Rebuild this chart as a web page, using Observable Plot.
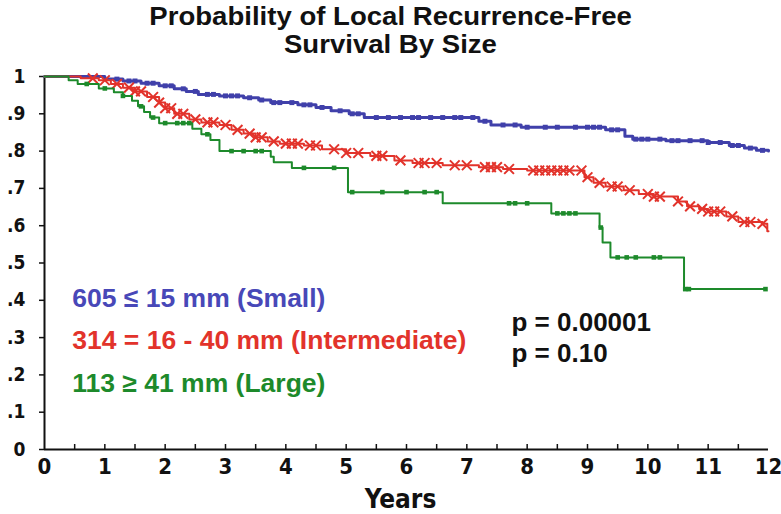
<!DOCTYPE html>
<html>
<head>
<meta charset="utf-8">
<script src="https://cdn.jsdelivr.net/npm/d3@7"></script>
<script src="https://cdn.jsdelivr.net/npm/@observablehq/plot@0.6"></script>
<style>
  html, body { margin: 0; padding: 0; background: #fff; }
  #wrap { width: 781px; height: 514px; position: relative; overflow: hidden; }
  #title { height: 60px; text-align: center; font-family: "Liberation Sans", Arial, sans-serif; font-weight: bold; font-size: 26px; line-height: 28px; color: #111; padding-top: 2px; box-sizing: border-box; }
  #title span { display: inline-block; transform: scaleX(1.06); }
</style>
</head>
<body>
<div id="wrap">
  <div id="title"><span>Probability of Local Recurrence-Free</span><br><span>Survival By Size</span></div>
  <div id="chart"></div>
</div>
<script>
// ---- data ----
const seriesNames = ["605 ≤ 15 mm (Small)", "314 = 16 - 40 mm (Intermediate)", "113 ≥ 41 mm (Large)"];
const pLabels = ["p = 0.00001", "p = 0.10"];

const smallT = [0, 1.0, 1.3, 1.6, 1.9, 2.15, 2.35, 2.55, 2.9, 3.3, 3.55, 3.75, 4.2, 4.5, 4.75, 5.05, 5.3, 7.2, 7.4, 7.9, 9.3, 9.62, 9.75, 10.3, 11.0, 11.35, 11.6, 11.8, 12.0];
const smallS = [1, 0.993, 0.988, 0.982, 0.975, 0.967, 0.96, 0.952, 0.948, 0.943, 0.937, 0.93, 0.924, 0.917, 0.908, 0.90, 0.89, 0.88, 0.87, 0.864, 0.857, 0.84, 0.832, 0.828, 0.823, 0.815, 0.808, 0.802, 0.80];
const smallCens = [1.2,1.4,1.5,1.7,1.8,2.0,2.1,2.3,2.5,2.7,2.8,3.0,3.1,3.2,3.4,3.6,3.8,3.9,4.1,4.3,4.4,4.6,4.9,5.1,5.2,5.5,5.7,5.9,6.1,6.2,6.4,6.6,6.8,6.9,7.1,7.3,7.6,7.8,8.0,8.3,8.5,8.8,9.0,9.1,9.2,9.4,9.5,9.8,9.9,10.0,10.2,10.4,10.5,10.7,10.9,11.0,11.2,11.4,11.5,11.7,11.9];

const interT = [0, 0.6, 0.9, 1.1, 1.3, 1.5, 1.7, 1.9, 2.0, 2.15, 2.4, 2.6, 2.9, 3.1, 3.3, 3.5, 3.7, 3.9, 4.3, 4.6, 5.0, 5.4, 5.8, 6.1, 6.6, 7.2, 7.6, 8.0, 8.95, 9.1, 9.3, 9.6, 9.85, 10.1, 10.5, 10.65, 10.85, 11.0, 11.3, 11.5, 11.9, 11.98, 12.0];
const interS = [1, 0.995, 0.99, 0.98, 0.97, 0.96, 0.945, 0.93, 0.915, 0.90, 0.885, 0.877, 0.87, 0.857, 0.847, 0.837, 0.826, 0.82, 0.815, 0.805, 0.795, 0.787, 0.775, 0.768, 0.762, 0.757, 0.752, 0.748, 0.73, 0.715, 0.705, 0.695, 0.685, 0.678, 0.665, 0.652, 0.645, 0.638, 0.625, 0.61, 0.605, 0.585, 0.585];
const interCens = [0.8,1.0,1.2,1.4,1.5,1.6,1.8,1.9,2.0,2.1,2.2,2.3,2.5,2.7,2.8,3.0,3.2,3.4,3.5,3.6,3.8,4.0,4.1,4.2,4.4,4.5,4.8,5.0,5.2,5.5,5.6,5.9,6.2,6.3,6.5,6.8,7.0,7.3,7.4,7.5,7.7,8.1,8.2,8.3,8.4,8.5,8.6,8.7,8.9,9.0,9.2,9.4,9.5,9.7,10.0,10.1,10.2,10.5,10.7,10.9,11.0,11.1,11.2,11.4,11.6,11.7,11.9];

const largeT = [0, 0.4, 0.55, 0.9, 1.15, 1.3, 1.45, 1.55, 1.65, 1.75, 1.9, 2.45, 2.6, 2.75, 2.9, 3.75, 3.8, 4.1, 5.03, 6.6, 8.4, 9.2, 9.25, 9.38, 10.6, 11.95];
const largeS = [1, 0.99, 0.98, 0.968, 0.958, 0.948, 0.935, 0.92, 0.905, 0.89, 0.875, 0.86, 0.845, 0.83, 0.80, 0.785, 0.77, 0.755, 0.69, 0.66, 0.633, 0.595, 0.555, 0.515, 0.43, 0.43];
const largeCens = [0.7,1.0,1.3,1.6,1.8,2.0,2.2,2.3,2.4,2.7,3.1,3.3,3.5,3.6,4.3,4.8,5.1,5.6,6.0,6.3,6.5,7.7,7.8,8.0,8.5,8.6,8.7,8.8,9.22,9.5,9.65,9.8,10.1,10.2,10.62,10.68,11.95];

const xTicks = [0,1,2,3,4,5,6,7,8,9,10,11,12];
const xMinorTicks = [0.5,1,1.5,2,2.5,3,3.5,4,4.5,5,5.5,6,6.5,7,7.5,8,8.5,9,9.5,10,10.5,11,11.5];
const yTicks = [0,0.1,0.2,0.3,0.4,0.5,0.6,0.7,0.8,0.9,1];
const yTickLabels = ["0",".1",".2",".3",".4",".5",".6",".7",".8",".9","1"];

// ---- helpers ----
const BLUE = "#4848b8", RED = "#e2332b", GREEN = "#1d8a2b";
const BLUE_LINE = "#4040aa";
function curve(T, S) { return T.map((t, i) => ({t, s: S[i]})); }
function censor(T, S, C) {
  return C.map(c => { const i = d3.bisectRight(T, c) - 1; return {t: c, s: S[Math.max(0, i)]}; });
}
const small = curve(smallT, smallS), inter = curve(interT, interS), large = curve(largeT, largeS);
const smallC = censor(smallT, smallS, smallCens), interC = censor(interT, interS, interCens), largeC = censor(largeT, largeS, largeCens);

const W = 781, H = 454, MT = 16, MB = 65;
const FONT_N = "'Liberation Sans Narrow', 'DejaVu Sans Condensed', 'Liberation Sans', sans-serif";
const FONT = "'Liberation Sans', Arial, sans-serif";

const chart = Plot.plot({
  width: W, height: H,
  marginTop: MT, marginBottom: MB, marginLeft: 44, marginRight: 13,
  x: {domain: [0, 12]},
  y: {domain: [0, 1]},
  style: {background: "#fff", color: "#111", fontFamily: FONT_N, overflow: "visible"},
  marks: [
    Plot.axisY(yTicks, {tickSize: 5, tickPadding: 14, tickFormat: d => yTickLabels[yTicks.indexOf(d)], fontSize: 19, fontWeight: "bold", fontFamily: FONT_N, label: null, stroke: "#111", strokeWidth: 1.5}),
    Plot.axisX(xTicks, {tickSize: 0, tickPadding: 9, fontSize: 22, fontWeight: "bold", fontFamily: FONT_N, label: null}),
    Plot.tickX(xMinorTicks, {x: d => d, insetTop: H - MT - MB - 5, stroke: "#111", strokeWidth: 1.5}),
    Plot.ruleX([0], {stroke: "#111", strokeWidth: 2}),
    Plot.ruleY([0], {stroke: "#111", strokeWidth: 2}),
    Plot.text(["Years"], {frameAnchor: "bottom", dy: 58, dx: -6, fontSize: 26, fontWeight: "bold", fontFamily: FONT_N, fill: "#111"}),

    Plot.line(small, {x: "t", y: "s", curve: "step-after", stroke: BLUE_LINE, strokeWidth: 3}),
    Plot.dot(smallC, {x: "t", y: "s", symbol: "square", r: 2.8, fill: BLUE_LINE}),

    Plot.line(inter, {x: "t", y: "s", curve: "step-after", stroke: RED, strokeWidth: 2}),
    Plot.dot(interC, {x: "t", y: "s", symbol: "times", r: 4.5, stroke: RED, strokeWidth: 2}),

    Plot.line(large, {x: "t", y: "s", curve: "step-after", stroke: GREEN, strokeWidth: 2}),
    Plot.dot(largeC, {x: "t", y: "s", symbol: "square", r: 2.6, fill: GREEN}),

    Plot.text([seriesNames[0]], {x: 0.46, y: 0.405, textAnchor: "start", fill: BLUE, fontSize: 26.5, fontWeight: "bold", fontFamily: FONT}),
    Plot.text([seriesNames[1]], {x: 0.46, y: 0.292, textAnchor: "start", fill: RED, fontSize: 26.5, fontWeight: "bold", fontFamily: FONT}),
    Plot.text([seriesNames[2]], {x: 0.46, y: 0.177, textAnchor: "start", fill: GREEN, fontSize: 26.5, fontWeight: "bold", fontFamily: FONT}),
    Plot.text([pLabels[0]], {x: 7.74, y: 0.34, textAnchor: "start", fill: "#111", fontSize: 26, fontWeight: "bold", fontFamily: FONT}),
    Plot.text([pLabels[1]], {x: 7.74, y: 0.257, textAnchor: "start", fill: "#111", fontSize: 26, fontWeight: "bold", fontFamily: FONT})
  ]
});
document.getElementById("chart").appendChild(chart);
</script>
</body>
</html>
